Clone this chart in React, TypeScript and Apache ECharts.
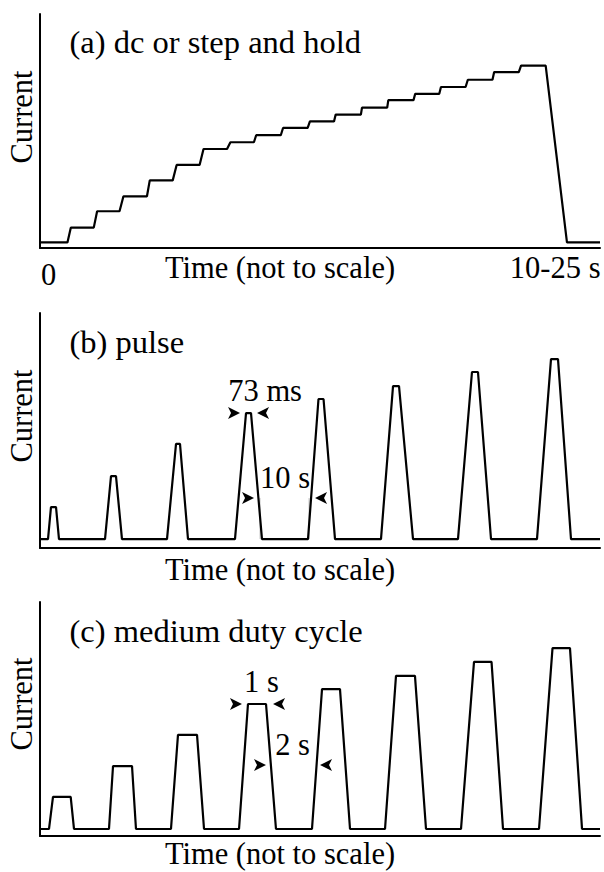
import React, { useEffect, useRef } from "react";
import * as echarts from "echarts";

const FONT = "Liberation Serif, Times New Roman, Times, serif";

// ---- Panel (a): dc or step and hold ----
const stepStart = [0, 5.5, 10.2, 14.9, 19.6, 24.4, 29.2, 34.0, 38.6, 43.4, 48.2, 52.8, 57.5, 62.2, 67.0, 71.6, 76.4, 81.1, 85.9];
const stepEnd = [4.9, 9.6, 14.2, 19.1, 23.7, 28.5, 33.4, 38.2, 43.0, 47.8, 52.5, 57.3, 62.0, 66.7, 71.3, 76.0, 80.8, 85.5, 90.3];
const stepLevel = [2.4, 8.7, 15.7, 22.1, 28.9, 35.5, 42.3, 45.2, 48.2, 51.3, 54.1, 57.0, 60.0, 63.2, 65.9, 68.8, 71.9, 75.2, 77.9];
const dropEnd = 94.1;
const timeEnd = 100;

// ---- Panel (b): pulse ----
const pulseBRise = [1.43, 11.61, 22.68, 34.82, 47.86, 60.89, 74.64, 88.75];
const pulseBTopStart = [1.96, 12.68, 24.29, 36.79, 49.73, 63.04, 77.14, 91.25];
const pulseBTopEnd = [2.86, 13.57, 25.0, 37.68, 50.63, 64.11, 78.21, 92.5];
const pulseBFall = [3.39, 14.64, 26.43, 39.64, 52.68, 66.61, 80.54, 94.82];
const pulseBPeak = [17.4, 30.6, 44.3, 57.4, 63.4, 68.9, 74.9, 80.4];
const baseB = 3.8;

// ---- Panel (c): medium duty cycle ----
const pulseCRise = [1.61, 12.32, 23.39, 35.54, 48.57, 61.61, 75.18, 89.11];
const pulseCTopStart = [2.32, 13.04, 24.64, 37.14, 50.36, 63.57, 77.5, 91.52];
const pulseCTopEnd = [5.48, 16.43, 28.04, 40.36, 53.57, 66.96, 80.63, 94.64];
const pulseCFall = [6.07, 17.14, 29.29, 42.14, 55.36, 68.93, 82.68, 96.79];
const pulseCPeak = [16.7, 29.9, 43.2, 56.4, 62.8, 68.4, 74.4, 80.3];
const baseC = 3.0;

// ---- Annotations ----
const annoBLabels = ["73 ms", "10 s"];
const annoBX = [40.2, 43.75];
const annoBY = [66.7, 29.8];
const arrowBX = [36.79, 37.68, 39.29, 48.04];
const arrowBY = [57.4, 57.4, 21.3, 21.3];
const arrowBDir = ["right", "left", "right", "left"];
const extBX = [39.29, 48.04];
const extBTop = 21.3;

const annoCLabels = ["1 s", "2 s"];
const annoCX = [39.55, 45.1];
const annoCY = [65.6, 39.1];
const arrowCX = [37.14, 40.54, 41.43, 48.93];
const arrowCY = [56.4, 56.4, 30.3, 30.3];
const arrowCDir = ["right", "left", "right", "left"];

const panelTitles = ["(a) dc or step and hold", "(b) pulse", "(c) medium duty cycle"];
const yAxisName = "Current";
const xAxisName = "Time (not to scale)";
const xStartLabel = "0";
const xEndLabel = "10-25 s";

function buildSteps(): number[][] {
  const pts: number[][] = [];
  for (let i = 0; i < stepLevel.length; i++) {
    pts.push([stepStart[i], stepLevel[i]]);
    pts.push([stepEnd[i], stepLevel[i]]);
  }
  pts.push([dropEnd, stepLevel[0]]);
  pts.push([timeEnd, stepLevel[0]]);
  return pts;
}

function buildPulses(rise: number[], ts: number[], te: number[], fall: number[], peak: number[], base: number): number[][] {
  const pts: number[][] = [[0, base]];
  for (let i = 0; i < rise.length; i++) {
    pts.push([rise[i], base]);
    pts.push([ts[i], peak[i]]);
    pts.push([te[i], peak[i]]);
    pts.push([fall[i], base]);
  }
  pts.push([timeEnd, base]);
  return pts;
}

function arrowData(xs: number[], ys: number[], dirs: string[]) {
  return xs.map((x, i) => ({
    value: [x, ys[i]],
    symbolRotate: dirs[i] === "right" ? -90 : 90,
    symbolOffset: [dirs[i] === "right" ? -6 : 6, 0],
  }));
}

function labelData(labels: string[], xs: number[], ys: number[]) {
  return labels.map((t, i) => ({ name: t, value: [xs[i], ys[i]] }));
}

const grids = [
  { left: 40, top: 14, width: 560, height: 234 },
  { left: 40, top: 313, width: 560, height: 235 },
  { left: 40, top: 602, width: 560, height: 234 },
];

export default function App() {
  const ref = useRef<HTMLDivElement>(null);
  useEffect(() => {
    if (!ref.current) return;
    const chart = echarts.init(ref.current, undefined, { renderer: "svg" });
    const axisLine = { show: true, onZero: false, lineStyle: { color: "#000", width: 2 } };
    const xAxes = grids.map((_, i) => ({
      type: "value", gridIndex: i, min: 0, max: 100,
      axisLine, axisTick: { show: false }, axisLabel: { show: false }, splitLine: { show: false },
    }));
    const yAxes = grids.map((_, i) => ({
      type: "value", gridIndex: i, min: 0, max: 100,
      axisLine, axisTick: { show: false }, axisLabel: { show: false }, splitLine: { show: false },
    }));
    const lineStyle = { color: "#000", width: 2.2 };
    const lineSeries = (idx: number, data: number[][]) => ({
      type: "line", xAxisIndex: idx, yAxisIndex: idx, data, showSymbol: false, silent: true,
      lineStyle, z: 3,
    });
    const arrowSeries = (idx: number, data: any[]) => ({
      type: "scatter", xAxisIndex: idx, yAxisIndex: idx, data, symbol: "arrow",
      symbolSize: [9, 12], itemStyle: { color: "#000", opacity: 1 }, silent: true, z: 4,
    });
    const labelSeries = (idx: number, data: any[]) => ({
      type: "scatter", xAxisIndex: idx, yAxisIndex: idx, data, symbolSize: 0,
      itemStyle: { color: "#000", opacity: 1 }, silent: true, z: 5,
      label: {
        show: true, position: "inside", formatter: "{b}", color: "#000", opacity: 1,
        textBorderWidth: 0, fontFamily: FONT, fontSize: 30.5, align: "center", verticalAlign: "middle",
      },
    });
    const extSeries = extBX.map((x) => ({
      type: "line", xAxisIndex: 1, yAxisIndex: 1, data: [[x, extBTop], [x, baseB]],
      showSymbol: false, silent: true, lineStyle: { color: "#c8c8c8", width: 1 }, z: 2,
    }));

    const txt = (text: string, x: number, y: number, size: number, align = "left", rotation = 0) => ({
      type: "text", x, y, rotation, silent: true,
      style: { text, fill: "#000", fontFamily: FONT, fontSize: size, align, verticalAlign: "middle" },
    });
    const titleY = [42, 342, 631];
    const currentY = [117, 416, 704];
    const timeY = [268, 570, 854];
    const graphics: any[] = [];
    panelTitles.forEach((t, i) => graphics.push(txt(t, 69.5, titleY[i], 32.5)));
    currentY.forEach((y) => graphics.push(txt(yAxisName, 22, y, 30.5, "center", Math.PI / 2)));
    timeY.forEach((y) => graphics.push(txt(xAxisName, 280, y, 30.5, "center")));
    graphics.push(txt(xStartLabel, 48.5, 275, 30.5, "center"));
    graphics.push(txt(xEndLabel, 600.5, 268, 30.5, "right"));

    chart.setOption({
      animation: false,
      backgroundColor: "#fff",
      grid: grids,
      xAxis: xAxes,
      yAxis: yAxes,
      series: [
        lineSeries(0, buildSteps()),
        lineSeries(1, buildPulses(pulseBRise, pulseBTopStart, pulseBTopEnd, pulseBFall, pulseBPeak, baseB)),
        lineSeries(2, buildPulses(pulseCRise, pulseCTopStart, pulseCTopEnd, pulseCFall, pulseCPeak, baseC)),
        ...extSeries,
        arrowSeries(1, arrowData(arrowBX, arrowBY, arrowBDir)),
        arrowSeries(2, arrowData(arrowCX, arrowCY, arrowCDir)),
        labelSeries(1, labelData(annoBLabels, annoBX, annoBY)),
        labelSeries(2, labelData(annoCLabels, annoCX, annoCY)),
      ],
      graphic: graphics,
    });
    return () => chart.dispose();
  }, []);
  return (
    <div
      ref={ref}
      style={{ position: "fixed", left: 0, top: 0, width: 604, height: 872, background: "#fff" }}
    />
  );
}
